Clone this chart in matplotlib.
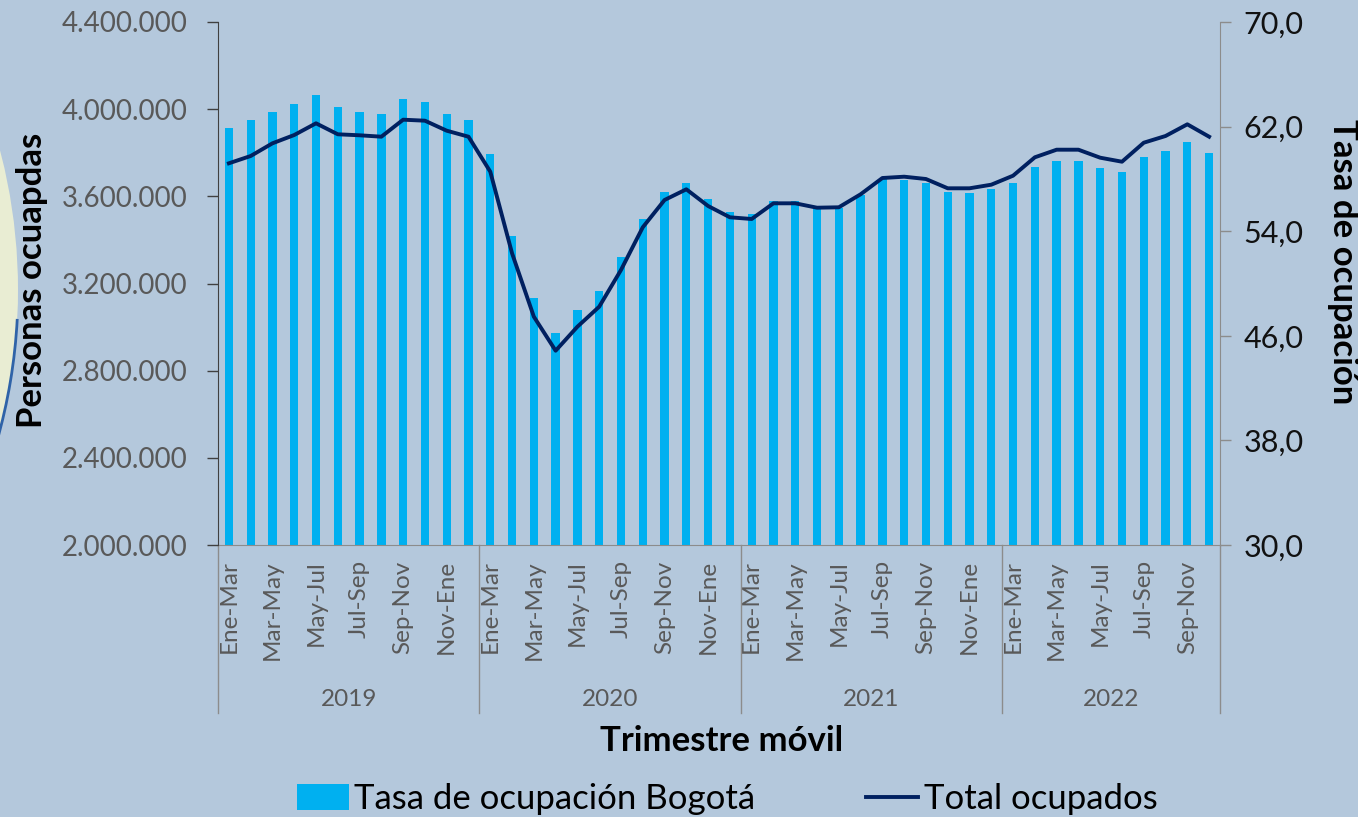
import numpy as np
import matplotlib
matplotlib.use("Agg")
import matplotlib.pyplot as plt
import matplotlib.transforms as mtransforms
from matplotlib.patches import Patch, Ellipse, Arc
from matplotlib.lines import Line2D

plt.rcParams['font.family'] = ['Lato', 'DejaVu Sans']

# ---------------- data ----------------
years = ["2019", "2020", "2021", "2022"]
periods = ["Ene-Mar", "Feb-Abr", "Mar-May", "Abr-Jun", "May-Jul", "Jun-Ago",
           "Jul-Sep", "Ago-Oct", "Sep-Nov", "Oct-Dic", "Nov-Ene", "Dic-Feb"]
periods_per_year = [12, 12, 12, 10]

# Tasa de ocupación Bogotá (%), right axis
tasa = [61.9, 62.5, 63.1, 63.7, 64.4, 63.5, 63.1, 63.0, 64.1, 63.9, 63.0, 62.5,
        59.9, 53.6, 48.9, 46.2, 48.0, 49.4, 52.0, 54.9, 57.0, 57.7, 56.5, 55.5,
        55.3, 56.3, 56.3, 55.7, 55.8, 56.8, 58.0, 57.9, 57.7, 57.0, 56.9, 57.2,
        57.7, 58.9, 59.4, 59.4, 58.8, 58.5, 59.7, 60.1, 60.8, 60.0]

# Total ocupados (personas), left axis
ocupados = [3751600, 3785100, 3843300, 3881400, 3935100, 3884700, 3880100, 3873700,
            3951700, 3947100, 3901200, 3873700,
            3713000, 3338600, 3047700, 2891600, 3001800, 3093500, 3262000, 3457900,
            3583200, 3632300, 3555600, 3503800,
            3496000, 3568000, 3568000, 3547800, 3549700, 3609300, 3684100, 3690100,
            3679500, 3636900, 3636900, 3653400,
            3694700, 3779100, 3814000, 3814000, 3777300, 3758900, 3846100, 3876900,
            3930500, 3873700]

left_ticks = [2000000, 2400000, 2800000, 3200000, 3600000, 4000000, 4400000]
right_ticks = [30, 38, 46, 54, 62, 70]

# ---------------- style ----------------
W, H = 1358, 817
BG = "#B4C8DC"
BAR = "#00B0F0"
LINE = "#002060"
GRAY_TXT = "#595959"
AX_GRAY = "#8C8C8C"

fig = plt.figure(figsize=(W / 100, H / 100), dpi=100)
fig.patch.set_facecolor(BG)

# decorative background circle at the left edge
circ = Ellipse((-5.35, (H - 290) / 100), 11.06, 11.06, transform=fig.dpi_scale_trans,
               facecolor="#E9EDD3", edgecolor="none", zorder=0)
fig.add_artist(circ)
arc = Arc((-5.35, (H - 290) / 100), 11.06, 11.06, theta1=-16, theta2=-3,
          transform=fig.dpi_scale_trans, color="#2F63A8", lw=2, zorder=0)
fig.add_artist(arc)

ax = fig.add_axes([218 / W, 1 - 545 / H, (1220 - 218) / W, (545 - 22) / H])
ax.set_facecolor("none")
ax2 = ax.twinx()

x = np.arange(len(tasa))
ax.bar(x, tasa, width=0.38, color=BAR, zorder=2)
ax.set_xlim(-0.5, len(tasa) - 0.5)
ax.set_ylim(30, 70)
ax.yaxis.tick_right()
ax.yaxis.set_label_position("right")
ax.set_yticks(right_ticks)
ax.set_yticklabels([f"{v:.1f}".replace(".", ",") for v in right_ticks])
ax.tick_params(axis="y", direction="out", length=8, width=1, color=AX_GRAY,
               labelsize=22, labelcolor="#111111", pad=9)

ax2.plot(x, ocupados, color=LINE, lw=2.8, solid_joinstyle="round", zorder=3)
ax2.set_ylim(2000000, 4400000)
ax2.yaxis.tick_left()
ax2.yaxis.set_label_position("left")
ax2.set_yticks(left_ticks)
ax2.set_yticklabels([f"{v:,.0f}".replace(",", ".") for v in left_ticks])
ax2.tick_params(axis="y", direction="out", length=8, width=1, color="#404040",
                labelsize=20, labelcolor=GRAY_TXT, pad=14)

for a in (ax, ax2):
    for s in a.spines.values():
        s.set_visible(False)
ax2.spines["left"].set_visible(True)
ax2.spines["left"].set_color("#404040")
ax2.spines["right"].set_visible(True)
ax2.spines["right"].set_color(AX_GRAY)
ax.spines["bottom"].set_visible(True)
ax.spines["bottom"].set_color(AX_GRAY)

# category tick labels: every other period within each year
tick_pos, tick_lab = [], []
start = 0
for n in periods_per_year:
    for i in range(n):
        if i % 2 == 0:
            tick_pos.append(start + i)
            tick_lab.append(periods[i])
    start += n
ax.set_xticks(tick_pos)
ax.set_xticklabels(tick_lab, rotation=90, va="top", ha="center")
ax.tick_params(axis="x", length=0, pad=11, labelsize=17.5, labelcolor=GRAY_TXT)

# year group labels and separators
trans = mtransforms.blended_transform_factory(ax.transData, ax.transAxes)
sep_depth = -(713 - 545) / 523
year_y = -(700 - 545) / 523
start = 0
bounds = [-0.5]
for yr, n in zip(years, periods_per_year):
    ax.text(start + (n - 1) / 2, year_y, yr, transform=trans, ha="center", va="center",
            fontsize=17.5, color=GRAY_TXT)
    start += n
    bounds.append(start - 0.5)
for b in bounds:
    ax.plot([b, b], [0, sep_depth], transform=trans, color=AX_GRAY, lw=1, clip_on=False)

fig.text(722 / W, 1 - 741 / H, "Trimestre móvil", ha="center", va="center",
         fontsize=25, fontweight="bold", color="black")
fig.text(32 / W, 1 - 280 / H, "Personas ocuapdas", ha="center", va="center",
         rotation=90, fontsize=25, fontweight="bold", color="black")
fig.text(1343 / W, 1 - 262 / H, "Tasa de ocupación", ha="center", va="center",
         rotation=270, fontsize=25, fontweight="bold", color="black")

handles = [Patch(facecolor=BAR, edgecolor="none"), Line2D([0], [0], color=LINE, lw=2.8)]
fig.legend(handles, ["Tasa de ocupación Bogotá", "Total ocupados"],
           loc="center", bbox_to_anchor=(727 / W, 1 - 799 / H), ncol=2, frameon=False,
           fontsize=25, handlelength=1.5, handletextpad=0.15, columnspacing=3.2,
           handleheight=0.75, borderpad=0.1)

fig.savefig("out.png", dpi=100, facecolor=BG)
